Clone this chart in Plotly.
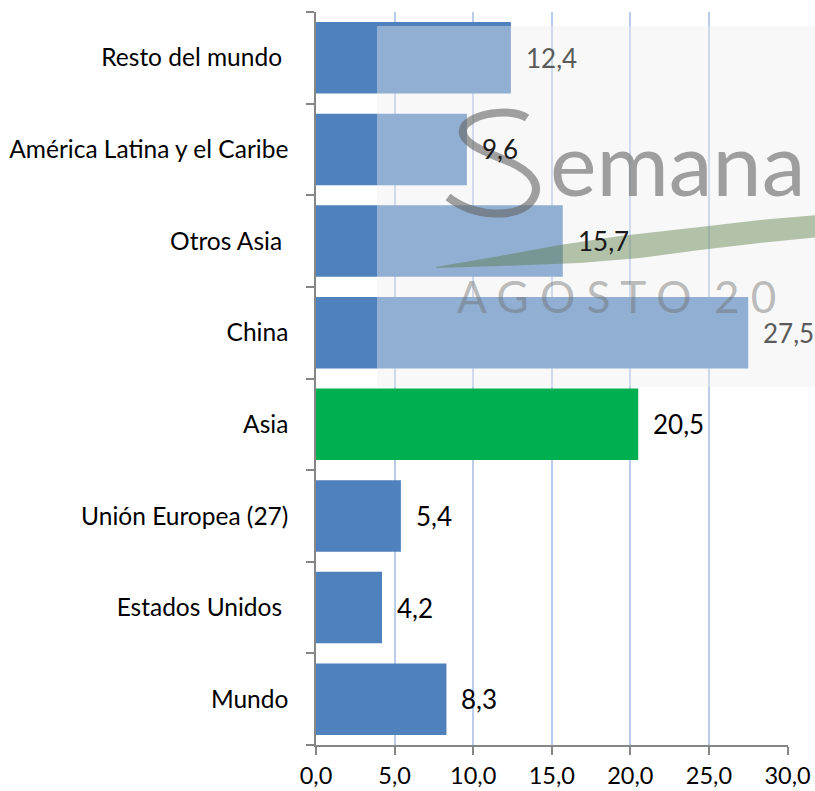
import plotly.graph_objects as go

categories = ["Mundo", "Estados Unidos\u00a0", "Unión Europea (27)", "Asia", "China",
              "Otros Asia\u00a0", "América Latina y el Caribe", "Resto del mundo\u00a0"]
values = [8.3, 4.2, 5.4, 20.5, 27.5, 15.7, 9.6, 12.4]
bar_colors = ["#4F81BD", "#4F81BD", "#4F81BD", "#00B050", "#4F81BD",
              "#4F81BD", "#4F81BD", "#4F81BD"]
label_colors = ["#000000", "#000000", "#000000", "#000000", "#5A5A5A",
                "#1A1A1A", "#1A1A1A", "#5A5A5A"]
x_ticks = [0, 5, 10, 15, 20, 25, 30]
x_tick_text = ["0,0", "5,0", "10,0", "15,0", "20,0", "25,0", "30,0"]

FONT = "Lato"
W, H = 815, 791
ML, MR, MT, MB = 316, 27, 12, 46
PW = W - ML - MR
PH = H - MT - MB


def px(x):
    return (x - ML) / PW


def py(y):
    return (H - MB - y) / PH


fig = go.Figure()
fig.add_trace(go.Bar(
    y=categories, x=values, orientation="h",
    marker=dict(color=bar_colors, line=dict(width=0)),
    hoverinfo="skip",
))

# value labels
for c, v, col in zip(categories, values, label_colors):
    fig.add_annotation(x=v, y=c, xref="x", yref="y", text=f"{v:.1f}".replace(".", ","),
                       showarrow=False, xanchor="left", yanchor="middle", xshift=13,
                       font=dict(family=FONT, size=26, color=col))

# watermark overlay
fig.add_shape(type="rect", xref="paper", yref="paper", layer="above",
              x0=px(377), x1=px(830), y0=py(387), y1=py(26),
              fillcolor="rgba(238,238,238,0.42)", line=dict(width=0))

# green swoosh
pts_top = [(436, 267), (500, 256), (560, 245), (620, 236), (700, 227), (760, 220), (830, 214)]
pts_bot = [(830, 236), (760, 243), (700, 250), (640, 258), (580, 263), (500, 266), (436, 268)]
path = "M " + " L ".join(f"{px(a):.4f},{py(b):.4f}" for a, b in pts_top + pts_bot) + " Z"
fig.add_shape(type="path", xref="paper", yref="paper", layer="above", path=path,
              fillcolor="rgba(80,120,60,0.42)", line=dict(width=0))

# calligraphic "S" of the watermark drawn as a stroke
s_pts = [(527, 118), (515, 110), (480, 110), (465, 125),
         (455, 140), (480, 150), (505, 160),
         (530, 170), (545, 185), (530, 203),
         (515, 218), (475, 218), (448, 197)]


def P(p):
    return f"{px(p[0]):.4f},{py(p[1]):.4f}"


s_path = (f"M {P(s_pts[0])} C {P(s_pts[1])} {P(s_pts[2])} {P(s_pts[3])} "
          f"C {P(s_pts[4])} {P(s_pts[5])} {P(s_pts[6])} "
          f"C {P(s_pts[7])} {P(s_pts[8])} {P(s_pts[9])} "
          f"C {P(s_pts[10])} {P(s_pts[11])} {P(s_pts[12])}")
fig.add_shape(type="path", xref="paper", yref="paper", layer="above", path=s_path,
              line=dict(color="rgba(100,100,100,0.6)", width=8))

fig.add_annotation(x=px(548), y=py(162), xref="paper", yref="paper", text="emana",
                   showarrow=False, xanchor="left", yanchor="middle",
                   font=dict(family=FONT, size=88, color="rgba(120,120,120,0.7)"))
fig.add_annotation(x=px(455), y=py(296), xref="paper", yref="paper", text="A G O S T O  2 0",
                   showarrow=False, xanchor="left", yanchor="middle",
                   font=dict(family=FONT, size=44, color="rgba(110,110,110,0.45)"))

fig.update_layout(
    width=W, height=H, autosize=False,
    margin=dict(l=ML, r=MR, t=MT, b=MB, pad=0),
    paper_bgcolor="white", plot_bgcolor="white",
    bargap=0.22, showlegend=False,
    font=dict(family=FONT, size=24, color="#000000"),
)
fig.update_xaxes(
    range=[0, 30.03], tickvals=x_ticks, ticktext=x_tick_text,
    showgrid=True, gridcolor="#BACCEB", gridwidth=1.5,
    showline=True, linecolor="#868686", linewidth=1.5,
    ticks="outside", ticklen=8, tickcolor="#868686", tickwidth=1.5,
    tickfont=dict(family=FONT, size=23.5, color="#000000"),
    ticklabelstandoff=1,
    zeroline=False, fixedrange=True, automargin=False,
)
fig.update_yaxes(
    type="category", categoryorder="array", categoryarray=categories,
    showline=True, linecolor="#868686", linewidth=1.5,
    ticks="outside", ticklen=8, tickcolor="#868686", tickwidth=1.5,
    tickson="boundaries", showgrid=False,
    tickfont=dict(family=FONT, size=24.5, color="#000000"),
    ticklabelstandoff=21, fixedrange=True, automargin=False,
)

fig.write_html(
    "out.html",
    config={"displayModeBar": False},
    post_script="document.body.style.margin='0px';document.body.style.padding='0px';"
                "document.documentElement.style.overflow='hidden';",
)
